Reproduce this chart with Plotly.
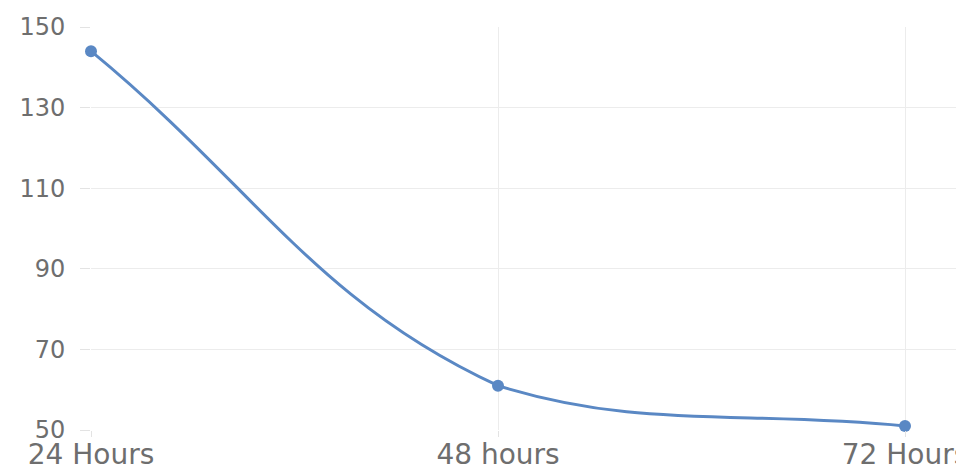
import math
import plotly.graph_objects as go

categories = ["24 Hours", "48 hours", "72 Hours"]
values = [144, 61, 51]
y_ticks = [50, 70, 90, 110, 130, 150]

# page has an 8px body margin; figure sits at (8, 8)
W, H = 956, 462
L, R, T, B = 83, 0, 19, 40
x_end = 2 * (964 - 91) / (905 - 91)
Y_MIN, Y_MAX = 50, 150

xs = list(range(len(values)))
LINE_COLOR = "#5a88c4"

# pixel scale of each axis (used only to weight the smoothing by on-screen distance)
SX = (W - L - R) / x_end
SY = (H - T - B) / (Y_MAX - Y_MIN)


def smooth_path(x, y, tension=0.4):
    """Cardinal-style bezier smoothing (tension 0.4), control points capped to the plot area."""
    n = len(x)

    def dist(i, j):
        return math.hypot((x[i] - x[j]) * SX, (y[i] - y[j]) * SY)

    cps = []
    for i in range(n):
        p = max(i - 1, 0)
        q = min(i + 1, n - 1)
        d01, d12 = dist(i, p), dist(q, i)
        tot = d01 + d12
        s01 = d01 / tot if tot else 0
        s12 = d12 / tot if tot else 0
        fa, fb = tension * s01, tension * s12
        prev_cp = (x[i] - fa * (x[q] - x[p]), y[i] - fa * (y[q] - y[p]))
        next_cp = (x[i] + fb * (x[q] - x[p]), y[i] + fb * (y[q] - y[p]))
        cps.append([prev_cp, next_cp])

    def cap(pt):
        return (min(max(pt[0], 0), x_end), min(max(pt[1], Y_MIN), Y_MAX))

    path = f"M {x[0]},{y[0]}"
    for i in range(n - 1):
        c1 = cap(cps[i][1])
        c2 = cap(cps[i + 1][0])
        path += f" C {c1[0]},{c1[1]} {c2[0]},{c2[1]} {x[i + 1]},{y[i + 1]}"
    return path


fig = go.Figure()
fig.add_trace(go.Scatter(
    x=xs, y=values, mode="markers",
    marker=dict(color=LINE_COLOR, size=12),
    cliponaxis=False, hoverinfo="skip",
))
fig.add_shape(
    type="path", path=smooth_path(xs, values), xref="x", yref="y",
    line=dict(color=LINE_COLOR, width=3), layer="between",
)

yfont = dict(family="DejaVu Sans, sans-serif", size=24, color="#6e6e6e")
xfont = dict(family="DejaVu Sans, sans-serif", size=28, color="#6e6e6e")

fig.update_layout(
    width=W, height=H,
    margin=dict(l=L, r=R, t=T, b=B),
    paper_bgcolor="white", plot_bgcolor="white",
    showlegend=False,
    xaxis=dict(
        range=[0, x_end], tickmode="array", tickvals=xs, ticktext=categories,
        showgrid=True, gridcolor="#ececec", gridwidth=1,
        ticks="outside", ticklen=6, tickcolor="#e3e3e3",
        zeroline=False, showline=False, tickfont=xfont,
        ticklabelstandoff=-7, ticklabeloverflow="allow", automargin=False,
    ),
    yaxis=dict(
        range=[Y_MIN, Y_MAX], tickmode="array", tickvals=y_ticks,
        showgrid=True, gridcolor="#ececec", gridwidth=1,
        ticks="outside", ticklen=10, tickcolor="#e3e3e3",
        zeroline=False, showline=False, tickfont=yfont,
        ticklabelstandoff=10, automargin=False,
    ),
)

fig.write_html("out.html")
